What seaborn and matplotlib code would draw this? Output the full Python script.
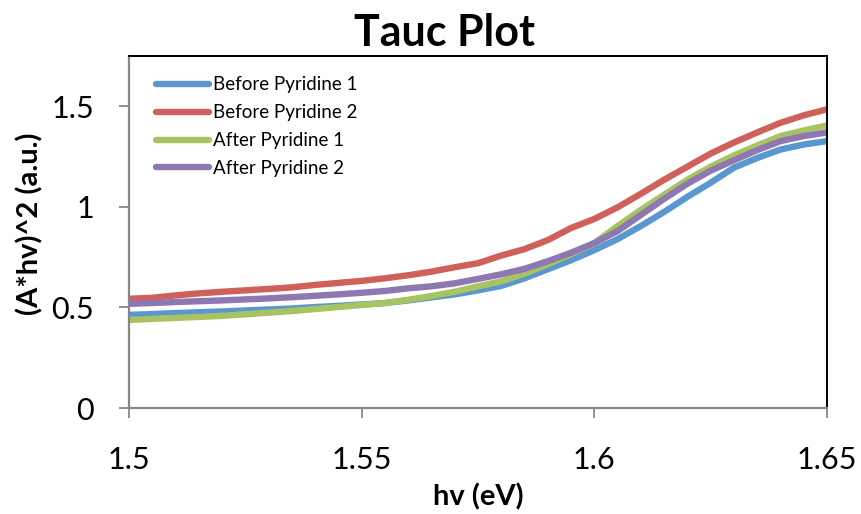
import seaborn as sns
import matplotlib.pyplot as plt
import pandas as pd

# hv grid (eV)
energy = [1.500, 1.505, 1.510, 1.515, 1.520, 1.525, 1.530, 1.535, 1.540, 1.545,
          1.550, 1.555, 1.560, 1.565, 1.570, 1.575, 1.580, 1.585, 1.590, 1.595,
          1.600, 1.605, 1.610, 1.615, 1.620, 1.625, 1.630, 1.635, 1.640, 1.645,
          1.650]

before_1 = [0.463, 0.467, 0.472, 0.476, 0.480, 0.485, 0.490, 0.495, 0.502, 0.508,
            0.515, 0.522, 0.535, 0.550, 0.565, 0.585, 0.607, 0.645, 0.690, 0.735,
            0.785, 0.840, 0.905, 0.975, 1.050, 1.120, 1.195, 1.243, 1.285, 1.310,
            1.327]
before_2 = [0.543, 0.548, 0.560, 0.570, 0.578, 0.585, 0.592, 0.600, 0.612, 0.622,
            0.632, 0.645, 0.660, 0.678, 0.700, 0.720, 0.758, 0.790, 0.835, 0.895,
            0.940, 0.998, 1.065, 1.135, 1.200, 1.265, 1.320, 1.370, 1.418, 1.455,
            1.485]
after_1 = [0.438, 0.443, 0.448, 0.453, 0.458, 0.466, 0.474, 0.482, 0.492, 0.502,
           0.512, 0.522, 0.538, 0.557, 0.578, 0.605, 0.630, 0.668, 0.715, 0.765,
           0.820, 0.905, 0.985, 1.060, 1.135, 1.200, 1.256, 1.305, 1.352, 1.380,
           1.405]
after_2 = [0.518, 0.522, 0.527, 0.531, 0.535, 0.540, 0.545, 0.551, 0.558, 0.565,
           0.573, 0.582, 0.595, 0.605, 0.620, 0.642, 0.665, 0.692, 0.730, 0.772,
           0.820, 0.880, 0.960, 1.040, 1.115, 1.180, 1.232, 1.282, 1.327, 1.352,
           1.370]

series_names = ['Before Pyridine 1', 'Before Pyridine 2', 'After Pyridine 1', 'After Pyridine 2']
series_colors = ['#5A96D0', '#D0605A', '#A8C462', '#8F77B2']

x_ticks = [1.5, 1.55, 1.6, 1.65]
x_tick_labels = ['1.5', '1.55', '1.6', '1.65']
y_ticks = [0, 0.5, 1, 1.5]
y_tick_labels = ['0', '0.5', '1', '1.5']

# long form table for seaborn
frames = []
for name, vals in zip(series_names, [before_1, before_2, after_1, after_2]):
    frames.append(pd.DataFrame({'hv': energy, 'value': vals, 'sample': name}))
df = pd.concat(frames, ignore_index=True)

sns.set_style('white')
plt.rcParams['font.family'] = ['Lato', 'DejaVu Sans']
plt.rcParams['text.color'] = 'black'
plt.rcParams['axes.labelcolor'] = 'black'

fig = plt.figure(figsize=(8.62, 5.14), dpi=100)
ax = fig.add_axes([0.1497, 0.2062, 0.8097, 0.6848])

sns.lineplot(data=df, x='hv', y='value', hue='sample', hue_order=series_names,
             palette=series_colors, linewidth=4.6, ax=ax, sort=False)

ax.set_xlim(1.5, 1.65)
ax.set_ylim(0, 1.75)
ax.set_xticks(x_ticks)
ax.set_xticklabels(x_tick_labels)
ax.set_yticks(y_ticks)
ax.set_yticklabels(y_tick_labels)

# seaborn white style hides ticks, turn them back on
ax.tick_params(axis='both', bottom=True, left=True, direction='out', length=7.2,
               width=1.3, color='#878787', labelsize=22, labelcolor='black')
ax.tick_params(axis='x', pad=20)
ax.tick_params(axis='y', pad=18)

for side in ['left', 'bottom']:
    ax.spines[side].set_color('#878787')
    ax.spines[side].set_linewidth(1.6)
for side in ['top', 'right']:
    ax.spines[side].set_color('black')
    ax.spines[side].set_linewidth(1.4)

ax.set_xlabel('hv (eV)', fontsize=21, fontweight='bold', va='top')
ax.set_ylabel('(A*hv)^2 (a.u.)', fontsize=21, fontweight='bold')
ax.xaxis.set_label_coords(0.5, -0.215)
ax.yaxis.set_label_coords(-0.123, 0.523)

fig.text(0.516, 0.935, 'Tauc Plot', ha='center', va='center', fontsize=31, fontweight='bold')

leg = ax.legend(loc='upper left', bbox_to_anchor=(0.015, 0.99), frameon=False,
                fontsize=13.5, handlelength=2.8, handletextpad=0.2, labelspacing=0.58)
for line in leg.get_lines():
    line.set_linewidth(4.6)
    line.set_solid_capstyle('round')

fig.savefig('out.png', dpi=100)
